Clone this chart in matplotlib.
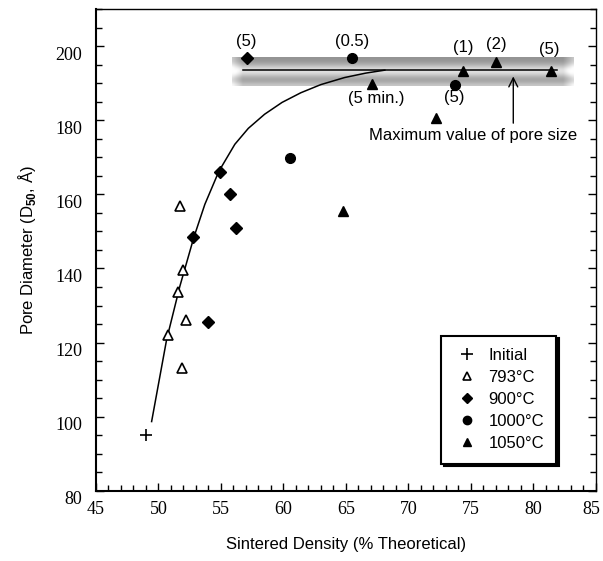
import numpy as np
import matplotlib
matplotlib.use("Agg")
import matplotlib.pyplot as plt
from matplotlib.transforms import ScaledTranslation
from matplotlib.lines import Line2D

plt.rcParams['font.family'] = ['Liberation Sans', 'DejaVu Sans']
plt.rcParams['mathtext.fontset'] = 'custom'
plt.rcParams['mathtext.rm'] = 'Liberation Sans'
plt.rcParams['mathtext.bf'] = 'Liberation Sans:bold'

# values
initial_x = [49.0]
initial_y = [95.0]

t793_x = [51.7, 52.0, 51.6, 52.2, 50.8, 51.9]
t793_y = [156.8, 139.7, 133.7, 126.1, 122.1, 113.2]

t900_x = [54.9, 55.7, 56.2, 52.8, 54.0, 57.1]
t900_y = [166.1, 160.2, 150.8, 148.4, 125.5, 196.9]

t1000_x = [60.5, 65.5, 73.7]
t1000_y = [169.9, 196.8, 189.5]

t1050_x = [64.8, 67.1, 74.4, 77.05, 81.4, 72.25]
t1050_y = [155.5, 189.7, 193.3, 195.8, 193.3, 180.5]

# trend line (read points)
curve_x = [49.46, 50.66, 51.72, 52.84, 53.72, 54.84, 56.12, 57.2, 58.5, 59.9,
           61.4, 63.0, 64.9, 66.6, 68.12]
curve_y = [98.7, 120.8, 135.2, 148.4, 157.3, 166.2, 173.5, 177.8, 181.6, 184.8,
           187.4, 189.6, 191.5, 192.7, 193.5]

max_line_x = [56.8, 81.9]
max_line_y = [193.5, 193.5]

band_x = [55.9, 83.2]
band_y = [189.1, 196.9]

notes = [("(5)", 57.05, 201.3), ("(0.5)", 65.5, 201.3), ("(1)", 74.4, 199.5),
         ("(2)", 77.05, 200.5), ("(5)", 81.3, 199.2), ("(5 min.)", 67.45, 185.9),
         ("(5)", 73.7, 186.0)]

legend_labels = ["Initial", "793°C", "900°C", "1000°C", "1050°C"]

fig = plt.figure(figsize=(6.03, 5.61), dpi=100)
ax = fig.add_axes([0.159, 0.125, 0.829, 0.859])

# shaded band (cylinder look)
prof = np.array([0.58, 0.60, 0.68, 0.80, 0.90, 0.86, 0.74, 0.64, 0.66, 0.78])
xs = np.linspace(0, 1, 300)
edge = np.clip(1 - np.minimum(xs, 1 - xs) / 0.03, 0, 1) * 0.2
img = np.clip(prof[:, None] + edge[None, :], 0, 1)
ax.imshow(img, cmap='gray', vmin=0, vmax=1, aspect='auto', interpolation='bicubic',
          extent=[band_x[0], band_x[1], band_y[0], band_y[1]], origin='upper', zorder=1)

ax.plot(curve_x, curve_y, color='black', lw=1.1, zorder=2)
ax.plot(max_line_x, max_line_y, color='black', lw=1.1, zorder=2)

ms = 7
ax.plot(initial_x, initial_y, '+', color='black', ms=9, mew=1.2, ls='none', zorder=3)
ax.plot(t793_x, t793_y, '^', mfc='white', mec='black', ms=ms, mew=1.2, ls='none', zorder=3)
ax.plot(t900_x, t900_y, 'D', color='black', ms=6, ls='none', zorder=3)
ax.plot(t1000_x, t1000_y, 'o', color='black', ms=ms, ls='none', zorder=3)
ax.plot(t1050_x, t1050_y, '^', color='black', ms=ms, ls='none', zorder=3)

for txt, x, y in notes:
    ax.text(x, y, txt, ha='center', va='center', fontsize=12, zorder=4)

ax.text(75.2, 175.8, "Maximum value of pore size", ha='center', va='center', fontsize=12)
ax.annotate("", xy=(78.4, 191.8), xytext=(78.4, 179.2),
            arrowprops=dict(arrowstyle='->', color='black', lw=1.0,
                            mutation_scale=16, shrinkA=0, shrinkB=0))

handles = [
    Line2D([], [], marker='+', color='black', ls='none', ms=8, mew=1.2),
    Line2D([], [], marker='^', mfc='white', mec='black', ls='none', ms=6, mew=1.2),
    Line2D([], [], marker='D', color='black', ls='none', ms=5),
    Line2D([], [], marker='o', color='black', ls='none', ms=6),
    Line2D([], [], marker='^', color='black', ls='none', ms=6),
]
leg = ax.legend(handles, legend_labels, loc='upper left', bbox_to_anchor=(0.69, 0.322),
                fontsize=12, frameon=True, fancybox=False, edgecolor='black',
                shadow=dict(color='black', alpha=1.0), labelspacing=0.42,
                handletextpad=0.5, handlelength=1.6, borderpad=0.75, borderaxespad=0)
leg.get_frame().set_linewidth(1.5)
leg.set_zorder(5)

ax.set_xlim(45, 85)
ax.set_ylim(80, 210)
ax.set_xticks(np.arange(45, 86, 5))
ax.set_xticks(np.arange(45, 86, 1), minor=True)
ax.set_yticks(np.arange(80, 201, 20))
ax.set_yticks(np.arange(80, 211, 5), minor=True)
ax.tick_params(which='both', direction='in', left=True, right=True, top=False, bottom=True,
               width=1.0)
ax.tick_params(which='major', length=6)
ax.tick_params(which='minor', length=4)
ax.tick_params(axis='x', pad=7)
ax.tick_params(axis='y', pad=10)
for sp in ['top', 'right']:
    ax.spines[sp].set_linewidth(1.0)
for sp in ['left', 'bottom']:
    ax.spines[sp].set_linewidth(1.5)

ax.set_xlabel("Sintered Density (% Theoretical)", fontsize=12, labelpad=14)
ax.set_ylabel("Pore Diameter (D$_{\\mathbf{50}}$, Å)", fontsize=12, labelpad=12)

# tick labels: serif, y labels sit a little below their ticks
fig.canvas.draw()
for lab in ax.get_xticklabels() + ax.get_yticklabels():
    lab.set_fontfamily('Liberation Serif')
    lab.set_fontsize(13)
down = ScaledTranslation(0, -7 / 100, fig.dpi_scale_trans)
for lab in ax.get_yticklabels():
    lab.set_transform(lab.get_transform() + down)
last = ax.get_xticklabels()[-1]
last.set_transform(last.get_transform() + ScaledTranslation(-4 / 100, 0, fig.dpi_scale_trans))

fig.savefig("out.png", dpi=100)
